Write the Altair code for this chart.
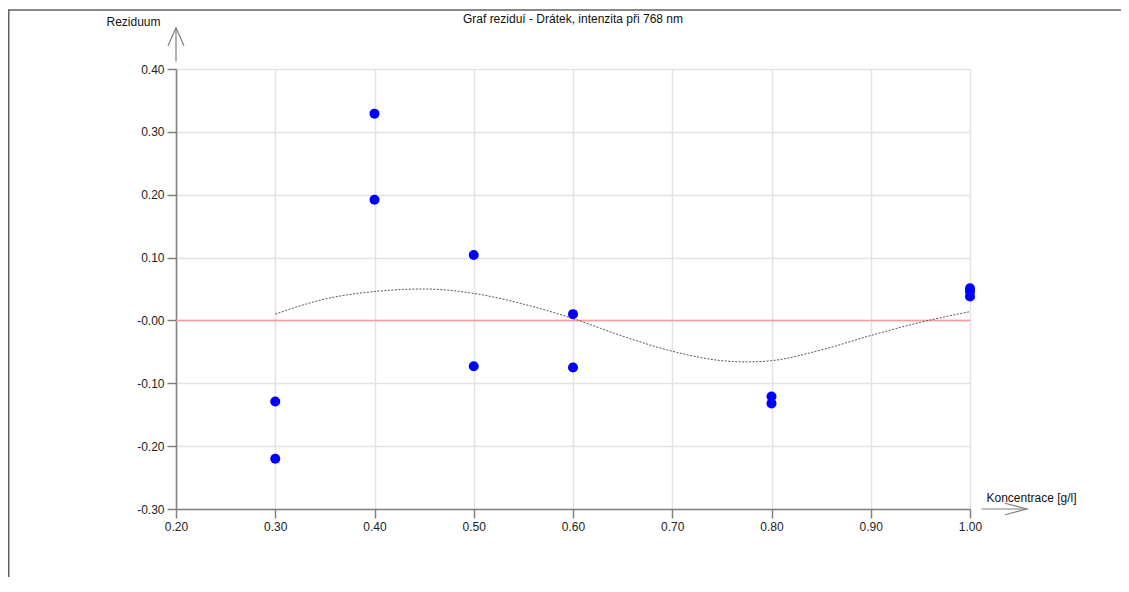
import altair as alt
import pandas as pd

# ---- data ----
conc = [0.30, 0.30, 0.40, 0.40, 0.50, 0.50, 0.60, 0.60, 0.80, 0.80, 1.00, 1.00, 1.00]
resid = [-0.129, -0.220, 0.329, 0.192, 0.104, -0.073, 0.010, -0.075,
         -0.121, -0.132, 0.051, 0.046, 0.038]

curve_x = [0.30, 0.35, 0.40, 0.45, 0.50, 0.55, 0.60, 0.65, 0.70, 0.75,
           0.775, 0.80, 0.85, 0.90, 0.95, 1.00]
curve_y = [0.010, 0.034, 0.046, 0.050, 0.043, 0.026, 0.003, -0.025, -0.049,
           -0.064, -0.066, -0.064, -0.047, -0.024, -0.003, 0.014]

x_ticks = [0.2, 0.3, 0.4, 0.5, 0.6, 0.7, 0.8, 0.9, 1.0]
y_ticks = [-0.3, -0.2, -0.1, 0.0, 0.1, 0.2, 0.3, 0.4]

x_domain = [0.2, 1.0]
y_domain = [-0.3, 0.4]

title_text = "Graf reziduí - Drátek, intenzita při 768 nm"
x_title = "Koncentrace [g/l]"
y_title = "Reziduum"

# axis arrows (data coordinates, just beyond the domain)
y_arrow = {"x": [0.2], "y": [0.4116], "y2": [0.4657]}
x_arrow = {"x": [1.0115], "x2": [1.0574], "y": [-0.3]}

FONT = "Liberation Sans"

points_df = pd.DataFrame({"x": conc, "y": resid})
curve_df = pd.DataFrame({"x": curve_x, "y": curve_y})
zero_df = pd.DataFrame({"x": [x_domain[0]], "x2": [x_domain[1]], "y": [0.0]})

xscale = alt.Scale(domain=x_domain, nice=False, zero=False)
yscale = alt.Scale(domain=y_domain, nice=False, zero=False)

label_expr = ("abs(datum.value) < 1e-9 ? '-0.00' : "
              "(datum.value < 0 ? '-' : '') + format(abs(datum.value), '.2f')")

xaxis = alt.Axis(
    values=x_ticks, labelExpr=label_expr, title=x_title, titleAngle=0,
    titleX=855, titleY=-8, titleBaseline="alphabetic", titleAlign="center",
    titleFont=FONT, titleFontSize=12, titleFontWeight="normal", titleColor="#111",
    labelFlush=False,
)
yaxis = alt.Axis(
    values=y_ticks, title=y_title, titleAngle=0, labelExpr=label_expr,
    titleX=-43, titleY=-44, titleBaseline="alphabetic", titleAlign="center",
    titleFont=FONT, titleFontSize=12, titleFontWeight="normal", titleColor="#111",
    labelFlush=False,
)


def X(field="x"):
    return alt.X(f"{field}:Q", scale=xscale, axis=xaxis)


def Y(field="y"):
    return alt.Y(f"{field}:Q", scale=yscale, axis=yaxis)


zero_line = alt.Chart(zero_df).mark_rule(color="#ff9999", strokeWidth=1.5).encode(
    x=X(), x2="x2:Q", y=Y()
)

curve = alt.Chart(curve_df).mark_line(
    color="#555555", strokeWidth=1, strokeDash=[2, 1.5], interpolate="monotone"
).encode(x=X(), y=Y())

points = alt.Chart(points_df).mark_circle(
    color="#0000ff", opacity=1, size=100
).encode(x=X(), y=Y())

y_shaft = alt.Chart(pd.DataFrame(y_arrow)).mark_rule(
    color="#808080", strokeWidth=1.2
).encode(x=X(), y=Y(), y2="y2:Q")
y_head = alt.Chart(pd.DataFrame(y_arrow)).mark_point(
    shape="M-0.444,1L0,0L0.444,1", size=1296, filled=False,
    color="#808080", strokeWidth=1.2, opacity=1
).encode(x=X(), y=Y("y2"))

x_shaft = alt.Chart(pd.DataFrame(x_arrow)).mark_rule(
    color="#808080", strokeWidth=1.2
).encode(x=X(), x2="x2:Q", y=Y())
x_head = alt.Chart(pd.DataFrame(x_arrow)).mark_point(
    shape="M-1,-0.26L0,0L-1,0.26", size=1936, filled=False,
    color="#808080", strokeWidth=1.2, opacity=1
).encode(x=X("x2"), y=Y())

dummy = pd.DataFrame({"d": [0]})
title_mark = alt.Chart(dummy).mark_text(
    text=title_text, font=FONT, fontSize=12, color="#111",
    align="center", baseline="alphabetic"
).encode(x=alt.value(397), y=alt.value(-46.5))

border_top = alt.Chart(dummy).mark_rule(color="#606060", strokeWidth=1.5).encode(
    x=alt.value(-167.25), x2=alt.value(945), y=alt.value(-59)
)
border_left = alt.Chart(dummy).mark_rule(color="#606060", strokeWidth=1.5).encode(
    x=alt.value(-167.25), y=alt.value(-59.75), y2=alt.value(508)
)

chart = alt.layer(
    zero_line, curve, points, y_shaft, y_head, x_shaft, x_head,
    title_mark, border_top, border_left
).properties(
    width=794,
    height=440,
    autosize=alt.AutoSizeParams(type="none"),
    padding={"left": 168, "top": 61, "right": 151, "bottom": 68},
).configure_view(stroke=None).configure_axis(
    domainColor="#808080", domainWidth=1.5,
    tickColor="#808080", tickWidth=1.5, tickSize=9,
    labelFont=FONT, labelFontSize=12, labelColor="#222", labelPadding=3,
    gridColor="#e3e3e3", gridWidth=1.5,
)

chart.save("out.html", embed_options={"renderer": "svg", "actions": False})
